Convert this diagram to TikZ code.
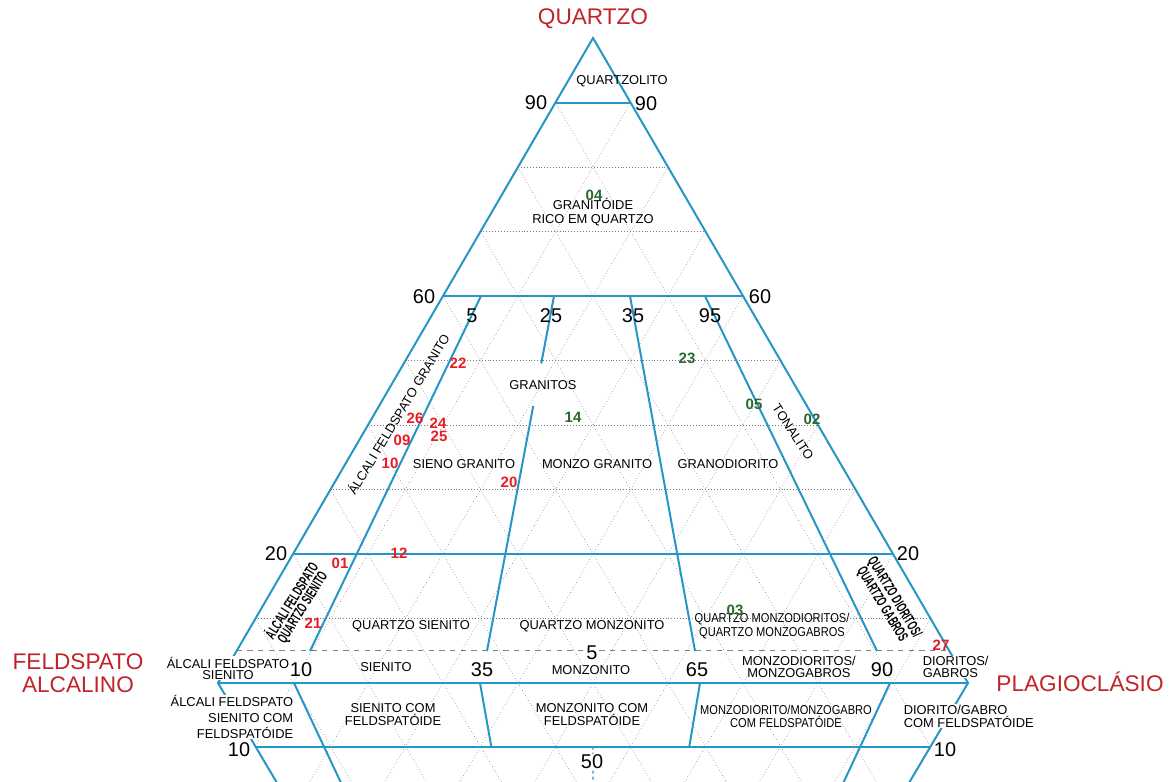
\documentclass[tikz,border=0pt]{standalone}
\usepackage{fontspec}
\setmainfont{Liberation Sans}
\newfontfamily\narrowsans{Liberation Sans}[FakeStretch=0.86]
\newfontfamily\tightsans{Liberation Sans}[FakeStretch=0.6]
\usetikzlibrary{calc}

\definecolor{zoneblue}{RGB}{38,150,198}
\definecolor{titlered}{RGB}{192,36,42}
\definecolor{samplered}{RGB}{232,28,36}
\definecolor{samplegreen}{RGB}{40,105,45}
\definecolor{gridgray}{RGB}{120,120,120}

\tikzset{
    zone/.style={draw=zoneblue, line width=0.6mm},
    gridline/.style={draw=gridgray, line width=0.5pt, dotted},
    qfive/.style={draw=gray, line width=0.3mm, dash pattern=on 1.6mm off 1.6mm},
    apex/.style={text=titlered, font=\fontsize{19.3}{19.6}\selectfont, align=center, inner sep=0pt},
    scalenum/.style={font=\fontsize{17}{17}\selectfont, inner sep=0.5pt},
    rock/.style={font=\fontsize{11}{10.7}\selectfont, align=center, inner sep=0.5pt},
    redpt/.style={text=samplered, font=\bfseries\fontsize{12.8}{12.8}\selectfont, inner sep=0pt},
    greenpt/.style={text=samplegreen, font=\bfseries\fontsize{12.8}{12.8}\selectfont, inner sep=0pt}
}

\begin{document}
\begin{tikzpicture}[x=0.3mm, y=-0.3mm]
    \clip (0,0) rectangle (1173,781);
    % Corners
    \coordinate (Q) at (593,38);
    \coordinate (A) at (218,683);
    \coordinate (P) at (968,683);
    \coordinate (F) at (593,1318);
    % Grid 10%
    \foreach \k in {1,...,9} {
        \pgfmathsetmacro{\f}{\k/10}
        \draw[gridline] ($(A)!\f!(Q)$) -- ($(P)!\f!(Q)$);
        \draw[gridline] ($(Q)!\f!(P)$) -- ($(A)!\f!(P)$);
        \draw[gridline] ($(Q)!\f!(A)$) -- ($(P)!\f!(A)$);
        \draw[gridline] ($(A)!\f!(F)$) -- ($(P)!\f!(F)$);
        \draw[gridline] ($(F)!\f!(P)$) -- ($(A)!\f!(P)$);
        \draw[gridline] ($(F)!\f!(A)$) -- ($(P)!\f!(A)$);
    }
    % Edges
    \draw[zone] (Q) -- (A) -- (F) -- (P) -- cycle;
    \draw[zone] (A) -- (P);
    % Quartz levels
    \foreach \q in {0.1,0.4,0.8} {
        \draw[zone] ($(Q)!\q!(A)$) -- ($(Q)!\q!(P)$);
    }
    \draw[qfive] ($(Q)!0.95!(A)$) coordinate (d-left) -- ($(Q)!0.95!(P)$) coordinate (d-right);
    \draw[zone] ($(F)!0.9!(A)$) -- ($(F)!0.9!(P)$);
    % Ratio lines, upper
    \coordinate (t10) at (481,296);
    \coordinate (b10) at (310,651);
    \coordinate (t35) at (554,296);
    \coordinate (b35) at (487,651);
    \coordinate (t65) at (630,296);
    \coordinate (b65) at (695,651);
    \coordinate (t90) at (705,296);
    \coordinate (b90) at (877,651);
    \draw[zone] (t10) -- (b10);
    \draw[zone] (t35) -- ($(t35)!0.19!(b35)$);
    \draw[zone] ($(t35)!0.31!(b35)$) -- (b35);
    \draw[zone] (t65) -- (b65);
    \draw[zone] (t90) -- (b90);
    % Ratio lines, lower
    \coordinate (u10) at (294,683);
    \coordinate (u35) at (480,683);
    \coordinate (u50) at (593,683);
    \coordinate (u65) at (700,683);
    \coordinate (u90) at (890,683);
    \draw[zone] (u10) -- (F);
    \draw[zone] (u35) -- ($(u35)!0.1!(F)$);
    \draw[zone] (u65) -- ($(u65)!0.1!(F)$);
    \draw[zone] (u90) -- (F);
    \draw[zone, line width=0.4mm, dash pattern=on 0.9mm off 0.9mm] ($(u50)!0.1!(F)$) -- (F);

    % Rock names
    \node[rock] (lbl-quartzolito) at (622,81) {QUARTZOLITO};
    \node[rock, font=\fontsize{11}{12}\selectfont] (lbl-rico) at (593,212) {GRANITÓIDE\\RICO EM QUARTZO};
    \node[rock] (lbl-granitos) at (543,385) {GRANITOS};
    \node[rock] (lbl-sieno) at (464,464) {SIENO GRANITO};
    \node[rock] (lbl-monzo) at (597,464) {MONZO GRANITO};
    \node[rock] (lbl-granodiorito) at (728,464) {GRANODIORITO};
    \node[rock, rotate=-57] (lbl-tonalito) at (793,432) {TONALITO};
    \node[rock, rotate=59] (lbl-afgranito) at (398,414) {ÁLCALI FELDSPATO GRANITO};
    \node[rock, font=\tightsans\bfseries\fontsize{12.5}{10.5}\selectfont, rotate=58] (lbl-afqs) at (297,604) {ÁLCALI FELDSPATO\\QUARTZO SIENITO};
    \node[rock, font=\tightsans\bfseries\fontsize{12.5}{10.5}\selectfont, rotate=-59] (lbl-qdg) at (888,601) {QUARTZO DIORITOS/\\QUARTZO GABROS};
    \node[rock] (lbl-qsienito) at (411,626) {QUARTZO SIENITO};
    \node[rock] (lbl-qmonzonito) at (592,626) {QUARTZO MONZONITO};
    \node[rock, font=\narrowsans\fontsize{11}{12}\selectfont] (lbl-qmonzodiorito) at (772,626) {QUARTZO MONZODIORITOS/\\QUARTZO MONZOGABROS};
    \node[rock, fill=white, font=\fontsize{11}{9.4}\selectfont] (lbl-afsienito) at (228,668) {ÁLCALI FELDSPATO\\SIENITO};
    \node[rock] (lbl-sienito) at (386,667) {SIENITO};
    \node[rock] (lbl-monzonito) at (591,670) {MONZONITO};
    \node[rock, font=\fontsize{11}{10.2}\selectfont] (lbl-monzodiorito) at (799,667) {MONZODIORITOS/\\MONZOGABROS};
    \node[rock, fill=white, align=left, anchor=west, font=\fontsize{11}{10.2}\selectfont] (lbl-diorito) at (922,667) {DIORITOS/\\GABROS};
    \node[rock, fill=white, align=right, anchor=east, font=\fontsize{11}{13.7}\selectfont] (lbl-afsfoid) at (294,717) {ÁLCALI FELDSPATO\\SIENITO COM\\FELDSPATÓIDE};
    \node[rock, font=\fontsize{11}{11.1}\selectfont] (lbl-sfoid) at (393,715) {SIENITO COM\\FELDSPATÓIDE};
    \node[rock, font=\fontsize{11}{11.1}\selectfont] (lbl-mfoid) at (592,715) {MONZONITO COM\\FELDSPATÓIDE};
    \node[rock, font=\narrowsans\fontsize{11}{11.1}\selectfont] (lbl-mdfoid) at (786,716) {MONZODIORITO/MONZOGABRO\\COM FELDSPATÓIDE};
    \node[rock, fill=white, align=left, anchor=west, font=\fontsize{11}{11.1}\selectfont] (lbl-dfoid) at (903,716) {DIORITO/GABRO\\COM FELDSPATÓIDE};

    % Scale numbers
    \foreach \txt/\x/\y [count=\n] in {90/536/103, 90/646/104, 60/424/297, 60/760/297,
        5/472/316, 25/551/316, 35/633/316, 95/710/316, 20/276/554, 20/908/554,
        10/301/670, 35/482/670, 65/697/670, 90/882/670, 10/239/750, 10/945/750} {
        \node[scalenum] (scale-\n) at (\x,\y) {\txt};
    }
    \node[scalenum, fill=white] (scale-mid) at (592,653) {5};
    \node[scalenum, fill=white] (scale-fifty) at (592,762) {50};

    % Corner names
    \node[apex] (quartzo) at (593,19) {QUARTZO};
    \node[apex] (feldspato) at (78,673) {FELDSPATO\\ALCALINO};
    \node[apex] (plagio) at (1080,682) {PLAGIOCLÁSIO};

    % Samples
    \foreach \id/\x/\y in {22/458/363, 26/415/418, 24/438/423, 25/439/436, 09/402/440,
        10/390/463, 20/509/482, 01/340/563, 12/399/553, 21/313/623, 27/941/645} {
        \node[redpt] (pt-\id) at (\x,\y) {\id};
    }
    \foreach \id/\x/\y in {04/594/195, 23/687/358, 14/573/417, 05/754/404, 02/812/419, 03/735/610} {
        \node[greenpt] (pt-\id) at (\x,\y) {\id};
    }
\end{tikzpicture}
\end{document}
